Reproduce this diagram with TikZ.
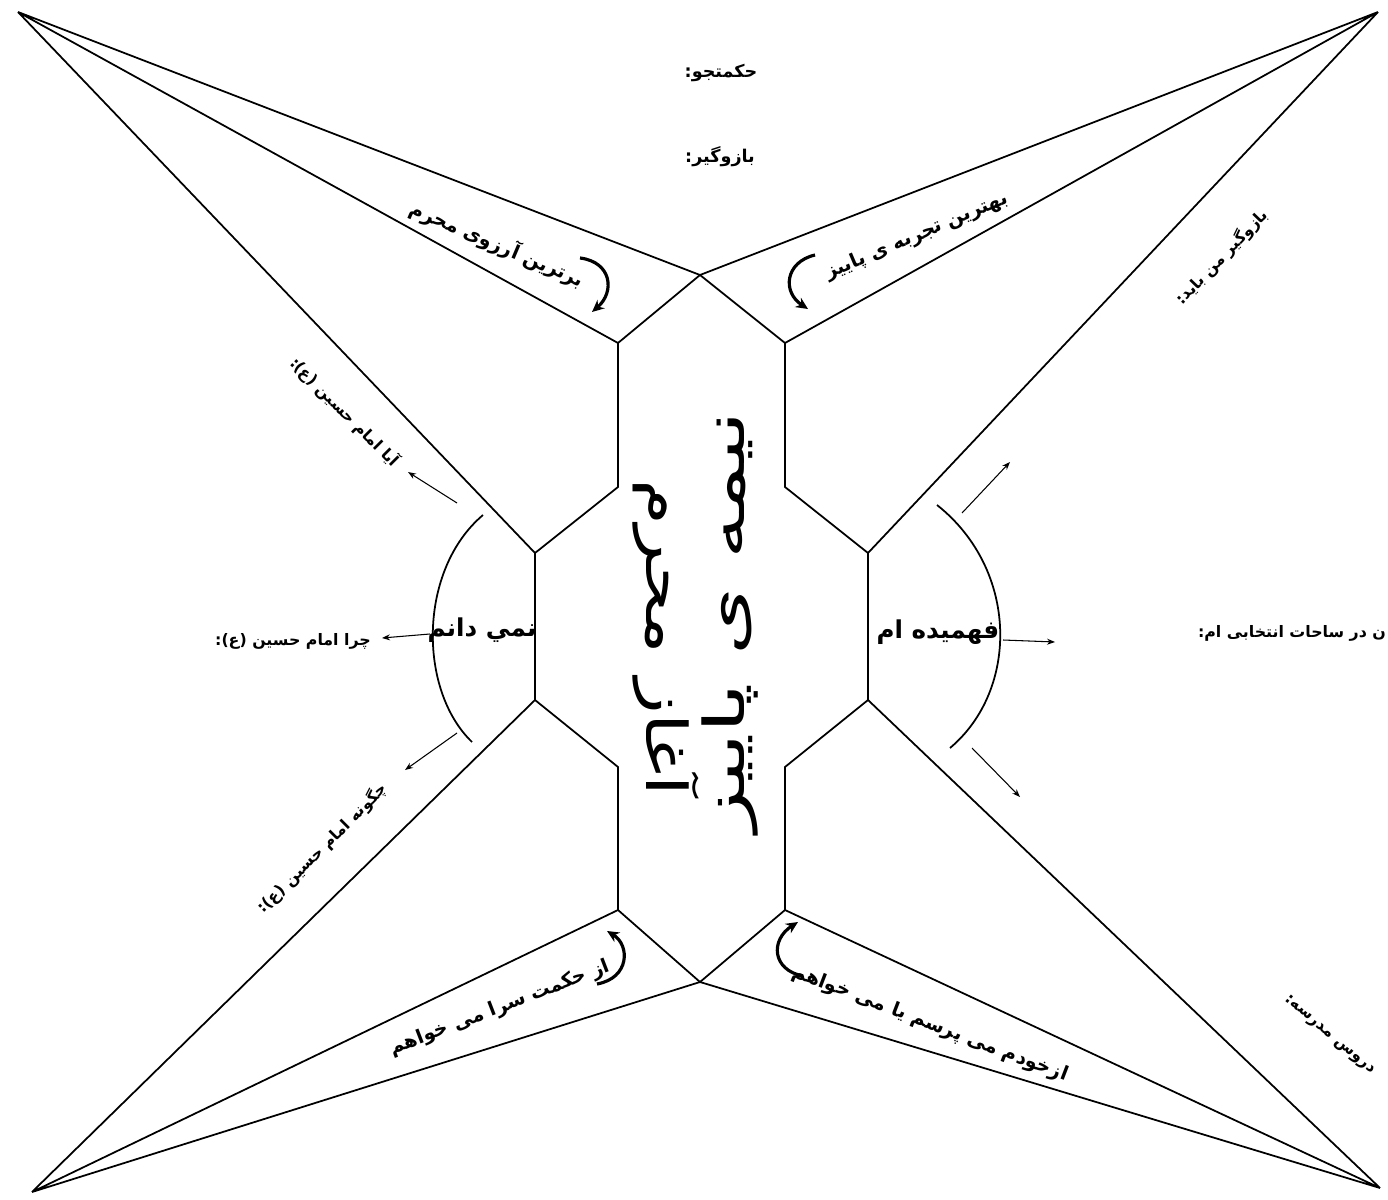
\documentclass[tikz,border=0pt]{standalone}
\usepackage{fontspec}
\newfontfamily\arabicfont[Script=Arabic]{DejaVu Sans}
\TeXXeTstate=1
\usetikzlibrary{arrows.meta, calc}

\begin{document}
\begin{tikzpicture}[x=0.02cm, y=-0.02cm,
    frame/.style={line width=1pt, black},
    arcline/.style={line width=1pt, black},
    ptr/.style={-{Stealth[length=1.6mm, width=1.2mm]}, line width=0.6pt},
    turn/.style={-{Stealth[length=2.4mm, width=2.2mm]}, line width=1.8pt},
    wedgelbl/.style={font=\arabicfont\bfseries\fontsize{11}{13}\selectfont, inner sep=1pt},
    note/.style={font=\arabicfont\bfseries\fontsize{9}{11}\selectfont, inner sep=1pt},
    head/.style={font=\arabicfont\bfseries\fontsize{10}{12}\selectfont, inner sep=1pt},
    boxlbl/.style={font=\arabicfont\bfseries\fontsize{14}{16}\selectfont, inner sep=1pt},
    title/.style={font=\arabicfont\fontsize{32}{36}\selectfont, inner sep=0pt},
]
\useasboundingbox (0,0) rectangle (1388,1199);

% tips of the star
\coordinate (TL) at (18,12);
\coordinate (TR) at (1378,12);
\coordinate (BL) at (32,1192);
\coordinate (BR) at (1380,1188);

% central body
\coordinate (top) at (700,275);
\coordinate (bot) at (700,982);
\coordinate (ul) at (618,343);  \coordinate (ur) at (785,343);
\coordinate (uln) at (618,487); \coordinate (urn) at (785,487);
\coordinate (lw1) at (535,553); \coordinate (rw1) at (868,553);
\coordinate (lw2) at (535,700); \coordinate (rw2) at (868,700);
\coordinate (lln) at (618,767); \coordinate (lrn) at (785,767);
\coordinate (ll) at (618,910);  \coordinate (lr) at (785,910);

\draw[frame] (top) -- (ur) -- (urn) -- (rw1) -- (rw2) -- (lrn) -- (lr) -- (bot)
  -- (ll) -- (lln) -- (lw2) -- (lw1) -- (uln) -- (ul) -- cycle;

\draw[frame] (TL) -- (top) (TL) -- (ul) (TL) -- (lw1);
\draw[frame] (TR) -- (top) (TR) -- (ur) (TR) -- (rw1);
\draw[frame] (BL) -- (bot) (BL) -- (ll) (BL) -- (lw2);
\draw[frame] (BR) -- (bot) (BR) -- (lr) (BR) -- (rw2);

% side arcs
\coordinate (lat) at (483,515); \coordinate (lab) at (472,742);
\coordinate (rat) at (937,505); \coordinate (rab) at (950,748);
\draw[arcline] (lat) .. controls (418,570) and (418,690) .. (lab);
\draw[arcline] (rat) .. controls (1019,570) and (1019,690) .. (rab);

% arrows out of the arcs
\coordinate (la1) at (457,503); \coordinate (la1e) at (408,472);
\coordinate (la2) at (430,634); \coordinate (la2e) at (382,638);
\coordinate (la3) at (457,733); \coordinate (la3e) at (405,770);
\coordinate (ra1) at (962,513); \coordinate (ra1e) at (1010,462);
\coordinate (ra2) at (1003,640); \coordinate (ra2e) at (1055,642);
\coordinate (ra3) at (972,748); \coordinate (ra3e) at (1020,797);
\draw[ptr] (la1) -- (la1e);
\draw[ptr] (la2) -- (la2e);
\draw[ptr] (la3) -- (la3e);
\draw[ptr] (ra1) -- (ra1e);
\draw[ptr] (ra2) -- (ra2e);
\draw[ptr] (ra3) -- (ra3e);

% curved arrows in the wedges
\draw[turn] (580,258) .. controls (612,262) and (615,292) .. (592,312);
\draw[turn] (815,255) .. controls (785,262) and (782,292) .. (808,309);
\draw[turn] (597,984) .. controls (630,978) and (630,945) .. (607,931);
\draw[turn] (803,976) .. controls (772,970) and (770,940) .. (798,922);

% texts
\node[head] (seeker) at (721,73) {\beginR حکمتجو:\endR};
\node[head] (helper) at (720,157) {\beginR بازوگیر:\endR};

\node[wedgelbl, rotate=-23] (wish) at (497,244) {\beginR برترین آرزوی محرم\endR};
\node[wedgelbl, rotate=23] (best) at (917,236) {\beginR بهترین تجربه ی پاییز\endR};
\node[wedgelbl, rotate=21] (ask1) at (500,1008) {\beginR از حکمت سرا می خواهم\endR};
\node[wedgelbl, rotate=-21] (ask2) at (930,1024) {\beginR ازخودم می پرسم یا می خواهم\endR};

\node[boxlbl] (dunno) at (482,630) {\beginR نمي دانم\endR};
\node[boxlbl] (got) at (938,632) {\beginR فهمیده ام\endR};

\node[note, rotate=-45] (q1) at (345,412) {\beginR آیا امام حسین (ع):\endR};
\node[note] (q2) at (293,641) {\beginR چرا امام حسین (ع):\endR};
\node[note, rotate=45] (q3) at (322,848) {\beginR چگونه امام حسین (ع):\endR};

\node[note, rotate=46] (must) at (1222,257) {\beginR بازوگیر من باید:\endR};
\node[note, anchor=east] (pick) at (1388,633) {\beginR ن در ساحات انتخابی ام:\endR};
\node[note, rotate=-40] (school) at (1330,1035) {\beginR دروس مدرسه:\endR};

% title, two lines facing each other
\node[title, rotate=-90] (start) at (666,638) {\scalebox{1.32}[1]{\beginR آغاز محرم\endR}};
\node[title, rotate=90] (mid) at (730,622) {\scalebox{1.55}[1]{\beginR نیمه ی پاییز\endR}};

\end{tikzpicture}
\end{document}
